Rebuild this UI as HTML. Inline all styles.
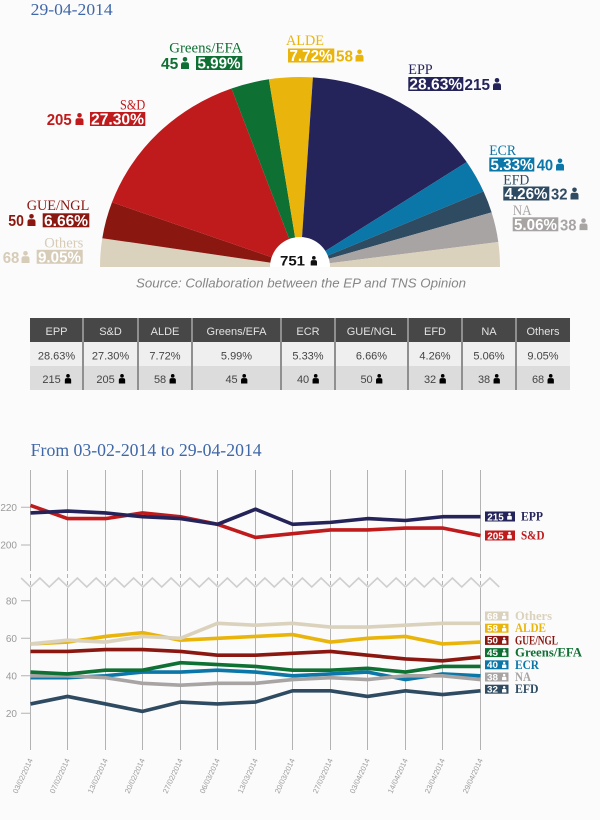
<!DOCTYPE html>
<html><head><meta charset="utf-8"><style>
html,body{margin:0;padding:0;background:#fbfbfb;}
svg{display:block;}
.sr{font-family:"Liberation Serif",serif;}
.ss{font-family:"Liberation Sans",sans-serif;}
</style></head><body>
<svg width="600" height="820" viewBox="0 0 600 820" xmlns="http://www.w3.org/2000/svg">
<defs>
<symbol id="p" viewBox="0 0 8 12"><circle cx="4" cy="2.3" r="2.3"/><path d="M0 12V7.6Q0 5.2 2.4 5.2H5.6Q8 5.2 8 7.6V12Z"/></symbol>
</defs>
<rect width="600" height="820" fill="#fbfbfb"/>

<!-- Title -->
<text class="sr" x="30.7" y="15" font-size="17" fill="#4068a8" textLength="82" lengthAdjust="spacingAndGlyphs">29-04-2014</text>

<!-- Pie -->
<g>
<path d="M300,267 L100,267 A200,190 0 0 1 102.3,238.2 Z" fill="#dbd2be"/>
<path d="M300,267 L102.3,238.2 A200,190 0 0 1 112.0,202.3 Z" fill="#8b1711"/>
<path d="M300,267 L112.0,202.3 A200,190 0 0 1 231.5,88.5 Z" fill="#bf1b1c"/>
<path d="M300,267 L231.5,88.5 A200,190 0 0 1 268.9,79.3 Z" fill="#0f7034"/>
<path d="M300,267 L268.9,79.3 A200,190 0 0 1 312.9,77.4 Z" fill="#e9b50c"/>
<path d="M300,267 L312.9,77.4 A200,190 0 0 1 466.7,162.0 Z" fill="#25245a"/>
<path d="M300,267 L466.7,162.0 A200,190 0 0 1 483.5,191.4 Z" fill="#0b76a8"/>
<path d="M300,267 L483.5,191.4 A200,190 0 0 1 491.6,212.4 Z" fill="#2f4b62"/>
<path d="M300,267 L491.6,212.4 A200,190 0 0 1 498.3,242.0 Z" fill="#a8a4a4"/>
<path d="M300,267 L498.3,242.0 A200,190 0 0 1 500,267 Z" fill="#dbd2be"/>
<path d="M270,267 A30,30 0 0 1 330,267 Z" fill="#ffffff"/>
<text class="ss" x="280" y="265.5" font-size="14" font-weight="bold" fill="#111" textLength="25" lengthAdjust="spacingAndGlyphs">751</text>
<use href="#p" x="310" y="256" width="7.7" height="9.5" fill="#111"/>
</g>

<!-- Greens/EFA -->
<text class="sr" x="169.3" y="52.7" font-size="14.5" fill="#0f7034" textLength="73" lengthAdjust="spacingAndGlyphs">Greens/EFA</text>
<text class="ss" x="161" y="69" font-size="15.5" font-weight="bold" fill="#0f7034" textLength="17.3" lengthAdjust="spacingAndGlyphs">45</text>
<use href="#p" x="181" y="57" width="8" height="12" fill="#0f7034"/>
<rect x="196" y="56" width="46.3" height="14" fill="#0f7034"/>
<text class="ss" x="197.5" y="68.5" font-size="15.5" font-weight="bold" fill="#fff" textLength="43" lengthAdjust="spacingAndGlyphs">5.99%</text>

<!-- ALDE -->
<text class="sr" x="286" y="45" font-size="14.5" fill="#e9b50c" textLength="38" lengthAdjust="spacingAndGlyphs">ALDE</text>
<rect x="288" y="48.5" width="46.3" height="14" fill="#e9b50c"/>
<text class="ss" x="289.5" y="61" font-size="15.5" font-weight="bold" fill="#fff" textLength="43" lengthAdjust="spacingAndGlyphs">7.72%</text>
<text class="ss" x="336" y="61.5" font-size="15.5" font-weight="bold" fill="#e9b50c" textLength="17" lengthAdjust="spacingAndGlyphs">58</text>
<use href="#p" x="355.5" y="49.5" width="8" height="12" fill="#e9b50c"/>

<!-- EPP -->
<text class="sr" x="408.3" y="74" font-size="14.5" fill="#25245a" textLength="24.4" lengthAdjust="spacingAndGlyphs">EPP</text>
<rect x="408.3" y="77" width="55" height="14" fill="#25245a"/>
<text class="ss" x="409.3" y="89.5" font-size="15.5" font-weight="bold" fill="#fff" textLength="53" lengthAdjust="spacingAndGlyphs">28.63%</text>
<text class="ss" x="464.5" y="90" font-size="15.5" font-weight="bold" fill="#25245a" textLength="25.5" lengthAdjust="spacingAndGlyphs">215</text>
<use href="#p" x="493" y="78" width="8" height="12" fill="#25245a"/>

<!-- ECR -->
<text class="sr" x="489.3" y="155" font-size="14.5" fill="#0b76a8" textLength="26.7" lengthAdjust="spacingAndGlyphs">ECR</text>
<rect x="489.3" y="157.5" width="45" height="14" fill="#0b76a8"/>
<text class="ss" x="490.5" y="170" font-size="15.5" font-weight="bold" fill="#fff" textLength="43" lengthAdjust="spacingAndGlyphs">5.33%</text>
<text class="ss" x="536.7" y="170.5" font-size="15.5" font-weight="bold" fill="#0b76a8" textLength="16.5" lengthAdjust="spacingAndGlyphs">40</text>
<use href="#p" x="556" y="158.5" width="8" height="12" fill="#0b76a8"/>

<!-- EFD -->
<text class="sr" x="503.3" y="184.3" font-size="14.5" fill="#2f4b62" textLength="26" lengthAdjust="spacingAndGlyphs">EFD</text>
<rect x="503.3" y="186.5" width="46" height="14" fill="#2f4b62"/>
<text class="ss" x="504.5" y="199" font-size="15.5" font-weight="bold" fill="#fff" textLength="43" lengthAdjust="spacingAndGlyphs">4.26%</text>
<text class="ss" x="551" y="199.5" font-size="15.5" font-weight="bold" fill="#2f4b62" textLength="16.5" lengthAdjust="spacingAndGlyphs">32</text>
<use href="#p" x="570.5" y="187.5" width="8" height="12" fill="#2f4b62"/>

<!-- NA -->
<text class="sr" x="512.7" y="215" font-size="14.5" fill="#a8a4a4" textLength="19" lengthAdjust="spacingAndGlyphs">NA</text>
<rect x="512.7" y="217.3" width="45.6" height="14" fill="#a8a4a4"/>
<text class="ss" x="514" y="229.8" font-size="15.5" font-weight="bold" fill="#fff" textLength="43" lengthAdjust="spacingAndGlyphs">5.06%</text>
<text class="ss" x="560" y="230.3" font-size="15.5" font-weight="bold" fill="#a8a4a4" textLength="16.5" lengthAdjust="spacingAndGlyphs">38</text>
<use href="#p" x="579.5" y="218.3" width="8" height="12" fill="#a8a4a4"/>

<!-- S&D -->
<text class="sr" x="120" y="109.3" font-size="14.5" fill="#bf1b1c" textLength="25.3" lengthAdjust="spacingAndGlyphs">S&amp;D</text>
<text class="ss" x="46.7" y="125" font-size="15.5" font-weight="bold" fill="#bf1b1c" textLength="25" lengthAdjust="spacingAndGlyphs">205</text>
<use href="#p" x="75.5" y="113" width="8" height="12" fill="#bf1b1c"/>
<rect x="90" y="112" width="55.3" height="14" fill="#bf1b1c"/>
<text class="ss" x="91" y="124.5" font-size="15.5" font-weight="bold" fill="#fff" textLength="53" lengthAdjust="spacingAndGlyphs">27.30%</text>

<!-- GUE/NGL -->
<text class="sr" x="26.7" y="210" font-size="14.5" fill="#8b1711" textLength="62.6" lengthAdjust="spacingAndGlyphs">GUE/NGL</text>
<text class="ss" x="8.3" y="226" font-size="15.5" font-weight="bold" fill="#8b1711" textLength="15.7" lengthAdjust="spacingAndGlyphs">50</text>
<use href="#p" x="27.5" y="214" width="8" height="12" fill="#8b1711"/>
<rect x="42.7" y="213.3" width="46.6" height="14" fill="#8b1711"/>
<text class="ss" x="44" y="225.8" font-size="15.5" font-weight="bold" fill="#fff" textLength="44" lengthAdjust="spacingAndGlyphs">6.66%</text>

<!-- Others -->
<text class="sr" x="44.3" y="247.3" font-size="14.5" fill="#d6ccb8" textLength="39" lengthAdjust="spacingAndGlyphs">Others</text>
<text class="ss" x="2.7" y="262.8" font-size="15.5" font-weight="bold" fill="#d6ccb8" textLength="16.6" lengthAdjust="spacingAndGlyphs">68</text>
<use href="#p" x="21.5" y="251" width="8" height="12" fill="#d6ccb8"/>
<rect x="36.7" y="249.8" width="46" height="14" fill="#d6ccb8"/>
<text class="ss" x="38" y="262.3" font-size="15.5" font-weight="bold" fill="#fff" textLength="43" lengthAdjust="spacingAndGlyphs">9.05%</text>

<!-- Source -->
<text class="ss" x="136" y="287.3" font-size="13" font-style="italic" fill="#858585" textLength="330" lengthAdjust="spacingAndGlyphs">Source: Collaboration between the EP and TNS Opinion</text>

<!-- Table -->
<rect x="30" y="318" width="540" height="24" fill="#474747"/>
<rect x="30" y="342" width="540" height="24" fill="#efefef"/>
<rect x="30" y="366" width="540" height="24" fill="#dcdcdc"/>
<g stroke="#8f8f8f" stroke-width="2">
<line x1="83" y1="318" x2="83" y2="390"/><line x1="138" y1="318" x2="138" y2="390"/><line x1="192" y1="318" x2="192" y2="390"/><line x1="281" y1="318" x2="281" y2="390"/><line x1="335" y1="318" x2="335" y2="390"/><line x1="408" y1="318" x2="408" y2="390"/><line x1="462" y1="318" x2="462" y2="390"/><line x1="516" y1="318" x2="516" y2="390"/>
</g>
<g class="ss" font-size="11" text-anchor="middle" fill="#e2e2e2">
<text x="56.5" y="335">EPP</text><text x="110.5" y="335">S&amp;D</text><text x="165" y="335">ALDE</text><text x="236.5" y="335">Greens/EFA</text><text x="308" y="335">ECR</text><text x="371.5" y="335">GUE/NGL</text><text x="435" y="335">EFD</text><text x="489" y="335">NA</text><text x="543" y="335">Others</text>
</g>
<g class="ss" font-size="11" text-anchor="middle" fill="#444">
<text x="56.5" y="359.5">28.63%</text><text x="110.5" y="359.5">27.30%</text><text x="165" y="359.5">7.72%</text><text x="236.5" y="359.5">5.99%</text><text x="308" y="359.5">5.33%</text><text x="371.5" y="359.5">6.66%</text><text x="435" y="359.5">4.26%</text><text x="489" y="359.5">5.06%</text><text x="543" y="359.5">9.05%</text>
</g>
<g class="ss" font-size="11" text-anchor="end" fill="#444">
<text x="60.7" y="383">215</text><text x="114.7" y="383">205</text><text x="166.2" y="383">58</text><text x="237.7" y="383">45</text><text x="309.2" y="383">40</text><text x="372.7" y="383">50</text><text x="436.2" y="383">32</text><text x="490.2" y="383">38</text><text x="544.2" y="383">68</text>
</g>
<g fill="#000">
<use href="#p" x="64.3" y="374" width="7.4" height="9.5"/><use href="#p" x="118.3" y="374" width="7.4" height="9.5"/><use href="#p" x="169" y="374" width="7.4" height="9.5"/><use href="#p" x="240.5" y="374" width="7.4" height="9.5"/><use href="#p" x="312" y="374" width="7.4" height="9.5"/><use href="#p" x="375.5" y="374" width="7.4" height="9.5"/><use href="#p" x="439" y="374" width="7.4" height="9.5"/><use href="#p" x="493" y="374" width="7.4" height="9.5"/><use href="#p" x="547" y="374" width="7.4" height="9.5"/>
</g>

<!-- Line chart title -->
<text class="sr" x="30.7" y="456" font-size="17.5" fill="#4068a8" textLength="231" lengthAdjust="spacingAndGlyphs">From 03-02-2014 to 29-04-2014</text>

<!-- Gridlines -->
<g stroke="#b3b3b3" stroke-width="1">
<path d="M30.5 470V567M67.5 470V567M105.5 470V567M142.5 470V567M180.5 470V567M217.5 470V567M255.5 470V567M292.5 470V567M330.5 470V567M367.5 470V567M405.5 470V567M442.5 470V567M480.5 470V567"/>
<path d="M30.5 590V750M67.5 590V750M105.5 590V750M142.5 590V750M180.5 590V750M217.5 590V750M255.5 590V750M292.5 590V750M330.5 590V750M367.5 590V750M405.5 590V750M442.5 590V750M480.5 590V750"/>
<path stroke-dasharray="4,3" d="M30.5 567V590M67.5 567V590M105.5 567V590M142.5 567V590M180.5 567V590M217.5 567V590M255.5 567V590M292.5 567V590M330.5 567V590M367.5 567V590M405.5 567V590M442.5 567V590M480.5 567V590"/>
<path d="M21 507.3H30.5M21 545H30.5M21 600.8H30.5M21 638.3H30.5M21 675.8H30.5M21 713.3H30.5"/>
</g>
<g class="ss" font-size="10" fill="#9a9a9a" text-anchor="end">
<text x="17" y="511">220</text><text x="17" y="548.6">200</text>
<text x="17" y="604.4">80</text><text x="17" y="641.9">60</text><text x="17" y="679.4">40</text><text x="17" y="716.9">20</text>
</g>

<!-- zigzag -->
<polyline fill="none" stroke="#cfcfcf" stroke-width="1.6" points="21.13,578 30.5,587 39.88,578 49.25,587 58.63,578 68,587 77.38,578 86.75,587 96.13,578 105.5,587 114.88,578 124.25,587 133.63,578 143,587 152.38,578 161.75,587 171.13,578 180.5,587 189.88,578 199.25,587 208.63,578 218,587 227.38,578 236.75,587 246.13,578 255.5,587 264.88,578 274.25,587 283.63,578 293,587 302.38,578 311.75,587 321.13,578 330.5,587 339.88,578 349.25,587 358.63,578 368,587 377.38,578 386.75,587 396.13,578 405.5,587 414.88,578 424.25,587 433.63,578 443,587 452.38,578 461.75,587 471.13,578 480.5,587 489.88,578 499.25,587"/>

<!-- Upper series -->
<g fill="none" stroke-width="3.6" stroke-linejoin="round" stroke-linecap="butt">
<polyline stroke="#bf1b1c" points="30.5,505.42 67.5,518.61 105.5,518.61 142.5,512.96 180.5,516.73 217.5,524.27 255.5,537.46 292.5,533.69 330.5,529.92 367.5,529.92 405.5,528.04 442.5,528.04 480.5,535.58"/>
<polyline stroke="#25245a" points="30.5,512.96 67.5,511.07 105.5,512.96 142.5,516.73 180.5,518.61 217.5,524.27 255.5,509.19 292.5,524.27 330.5,522.38 367.5,518.61 405.5,520.5 442.5,516.73 480.5,516.73"/>
</g>

<!-- Lower series -->
<g fill="none" stroke-width="3.6" stroke-linejoin="round">
<polyline stroke="#2f4b62" points="30.5,703.93 67.5,696.43 105.5,703.93 142.5,711.43 180.5,702.05 217.5,703.93 255.5,702.05 292.5,690.8 330.5,690.8 367.5,696.43 405.5,690.8 442.5,694.55 480.5,690.8"/>
<polyline stroke="#0b76a8" points="30.5,677.68 67.5,677.68 105.5,675.8 142.5,672.05 180.5,672.05 217.5,670.18 255.5,672.05 292.5,675.8 330.5,673.93 367.5,672.05 405.5,679.55 442.5,673.93 480.5,675.8"/>
<polyline stroke="#a8a4a4" points="30.5,675.8 67.5,675.8 105.5,677.68 142.5,683.3 180.5,685.18 217.5,683.3 255.5,683.3 292.5,679.55 330.5,677.68 367.5,679.55 405.5,675.8 442.5,675.8 480.5,679.55"/>
<polyline stroke="#0f7034" points="30.5,672.05 67.5,673.93 105.5,670.18 142.5,670.18 180.5,662.68 217.5,664.55 255.5,666.43 292.5,670.18 330.5,670.18 367.5,668.3 405.5,672.05 442.5,666.43 480.5,666.43"/>
<polyline stroke="#8b1711" points="30.5,651.43 67.5,651.43 105.5,649.55 142.5,649.55 180.5,651.43 217.5,655.18 255.5,655.18 292.5,653.3 330.5,651.43 367.5,655.18 405.5,658.93 442.5,660.8 480.5,657.05"/>
<polyline stroke="#e9b50c" points="30.5,643.93 67.5,642.05 105.5,636.43 142.5,632.68 180.5,640.18 217.5,638.3 255.5,636.43 292.5,634.55 330.5,642.05 367.5,638.3 405.5,636.43 442.5,643.93 480.5,642.05"/>
<polyline stroke="#dbd2be" points="30.5,643.93 67.5,640.18 105.5,642.05 142.5,636.43 180.5,638.3 217.5,623.3 255.5,625.18 292.5,623.3 330.5,627.05 367.5,627.05 405.5,625.18 442.5,623.3 480.5,623.3"/>
</g>

<!-- Upper legend -->
<rect x="485" y="511.5" width="30" height="10" fill="#25245a"/>
<text class="ss" x="487.3" y="520.3" font-size="10" font-weight="bold" fill="#fff" textLength="16.5" lengthAdjust="spacingAndGlyphs">215</text>
<use href="#p" x="506.7" y="512.7" width="5.6" height="7" fill="#fff"/>
<text class="sr" x="521" y="520.5" font-size="12.5" font-weight="bold" fill="#25245a" textLength="22" lengthAdjust="spacingAndGlyphs">EPP</text>
<rect x="485" y="530.5" width="30" height="10" fill="#bf1b1c"/>
<text class="ss" x="487.3" y="539.3" font-size="10" font-weight="bold" fill="#fff" textLength="16.5" lengthAdjust="spacingAndGlyphs">205</text>
<use href="#p" x="506.7" y="531.7" width="5.6" height="7" fill="#fff"/>
<text class="sr" x="521" y="539.5" font-size="12.5" font-weight="bold" fill="#bf1b1c" textLength="23.5" lengthAdjust="spacingAndGlyphs">S&amp;D</text>

<!-- Lower legend -->
<g class="ss" font-size="9.5" font-weight="bold" fill="#fff">
<rect x="485" y="611.5" width="23.5" height="9" fill="#dbd2be"/><text x="487" y="619.3" textLength="11" lengthAdjust="spacingAndGlyphs">68</text><use href="#p" x="501.7" y="612.8" width="5" height="6.5"/>
<rect x="485" y="623.7" width="23.5" height="9" fill="#e9b50c"/><text x="487" y="631.5" textLength="11" lengthAdjust="spacingAndGlyphs">58</text><use href="#p" x="501.7" y="625" width="5" height="6.5"/>
<rect x="485" y="635.9" width="23.5" height="9" fill="#8b1711"/><text x="487" y="643.7" textLength="11" lengthAdjust="spacingAndGlyphs">50</text><use href="#p" x="501.7" y="637.2" width="5" height="6.5"/>
<rect x="485" y="648.1" width="23.5" height="9" fill="#0f7034"/><text x="487" y="655.9" textLength="11" lengthAdjust="spacingAndGlyphs">45</text><use href="#p" x="501.7" y="649.4" width="5" height="6.5"/>
<rect x="485" y="660.3" width="23.5" height="9" fill="#0b76a8"/><text x="487" y="668.1" textLength="11" lengthAdjust="spacingAndGlyphs">40</text><use href="#p" x="501.7" y="661.6" width="5" height="6.5"/>
<rect x="485" y="672.5" width="23.5" height="9" fill="#a8a4a4"/><text x="487" y="680.3" textLength="11" lengthAdjust="spacingAndGlyphs">38</text><use href="#p" x="501.7" y="673.8" width="5" height="6.5"/>
<rect x="485" y="684.7" width="23.5" height="9" fill="#2f4b62"/><text x="487" y="692.5" textLength="11" lengthAdjust="spacingAndGlyphs">32</text><use href="#p" x="501.7" y="686" width="5" height="6.5"/>
</g>
<g class="sr" font-size="12.5" font-weight="bold">
<text x="515" y="620" fill="#dbd2be" textLength="37" lengthAdjust="spacingAndGlyphs">Others</text>
<text x="515" y="632.2" fill="#e9b50c" textLength="31" lengthAdjust="spacingAndGlyphs">ALDE</text>
<text x="515" y="644.4" fill="#8b1711" textLength="43" lengthAdjust="spacingAndGlyphs">GUE/NGL</text>
<text x="515" y="656.6" fill="#0f7034" textLength="67" lengthAdjust="spacingAndGlyphs">Greens/EFA</text>
<text x="515" y="668.8" fill="#0b76a8" textLength="24" lengthAdjust="spacingAndGlyphs">ECR</text>
<text x="515" y="681" fill="#a8a4a4" textLength="16" lengthAdjust="spacingAndGlyphs">NA</text>
<text x="515" y="693.2" fill="#2f4b62" textLength="23.5" lengthAdjust="spacingAndGlyphs">EFD</text>
</g>

<!-- X labels -->
<g class="ss" font-size="7.5" fill="#9a9a9a" text-anchor="end">
<text transform="translate(33,760) rotate(-65)" textLength="37.5" lengthAdjust="spacingAndGlyphs">03/02/2014</text>
<text transform="translate(70,760) rotate(-65)" textLength="37.5" lengthAdjust="spacingAndGlyphs">07/02/2014</text>
<text transform="translate(108,760) rotate(-65)" textLength="37.5" lengthAdjust="spacingAndGlyphs">13/02/2014</text>
<text transform="translate(145,760) rotate(-65)" textLength="37.5" lengthAdjust="spacingAndGlyphs">20/02/2014</text>
<text transform="translate(183,760) rotate(-65)" textLength="37.5" lengthAdjust="spacingAndGlyphs">27/02/2014</text>
<text transform="translate(220,760) rotate(-65)" textLength="37.5" lengthAdjust="spacingAndGlyphs">06/03/2014</text>
<text transform="translate(258,760) rotate(-65)" textLength="37.5" lengthAdjust="spacingAndGlyphs">13/03/2014</text>
<text transform="translate(295,760) rotate(-65)" textLength="37.5" lengthAdjust="spacingAndGlyphs">20/03/2014</text>
<text transform="translate(333,760) rotate(-65)" textLength="37.5" lengthAdjust="spacingAndGlyphs">27/03/2014</text>
<text transform="translate(370,760) rotate(-65)" textLength="37.5" lengthAdjust="spacingAndGlyphs">03/04/2014</text>
<text transform="translate(408,760) rotate(-65)" textLength="37.5" lengthAdjust="spacingAndGlyphs">14/04/2014</text>
<text transform="translate(445,760) rotate(-65)" textLength="37.5" lengthAdjust="spacingAndGlyphs">23/04/2014</text>
<text transform="translate(483,760) rotate(-65)" textLength="37.5" lengthAdjust="spacingAndGlyphs">29/04/2014</text>
</g>
</svg>
</body></html>
